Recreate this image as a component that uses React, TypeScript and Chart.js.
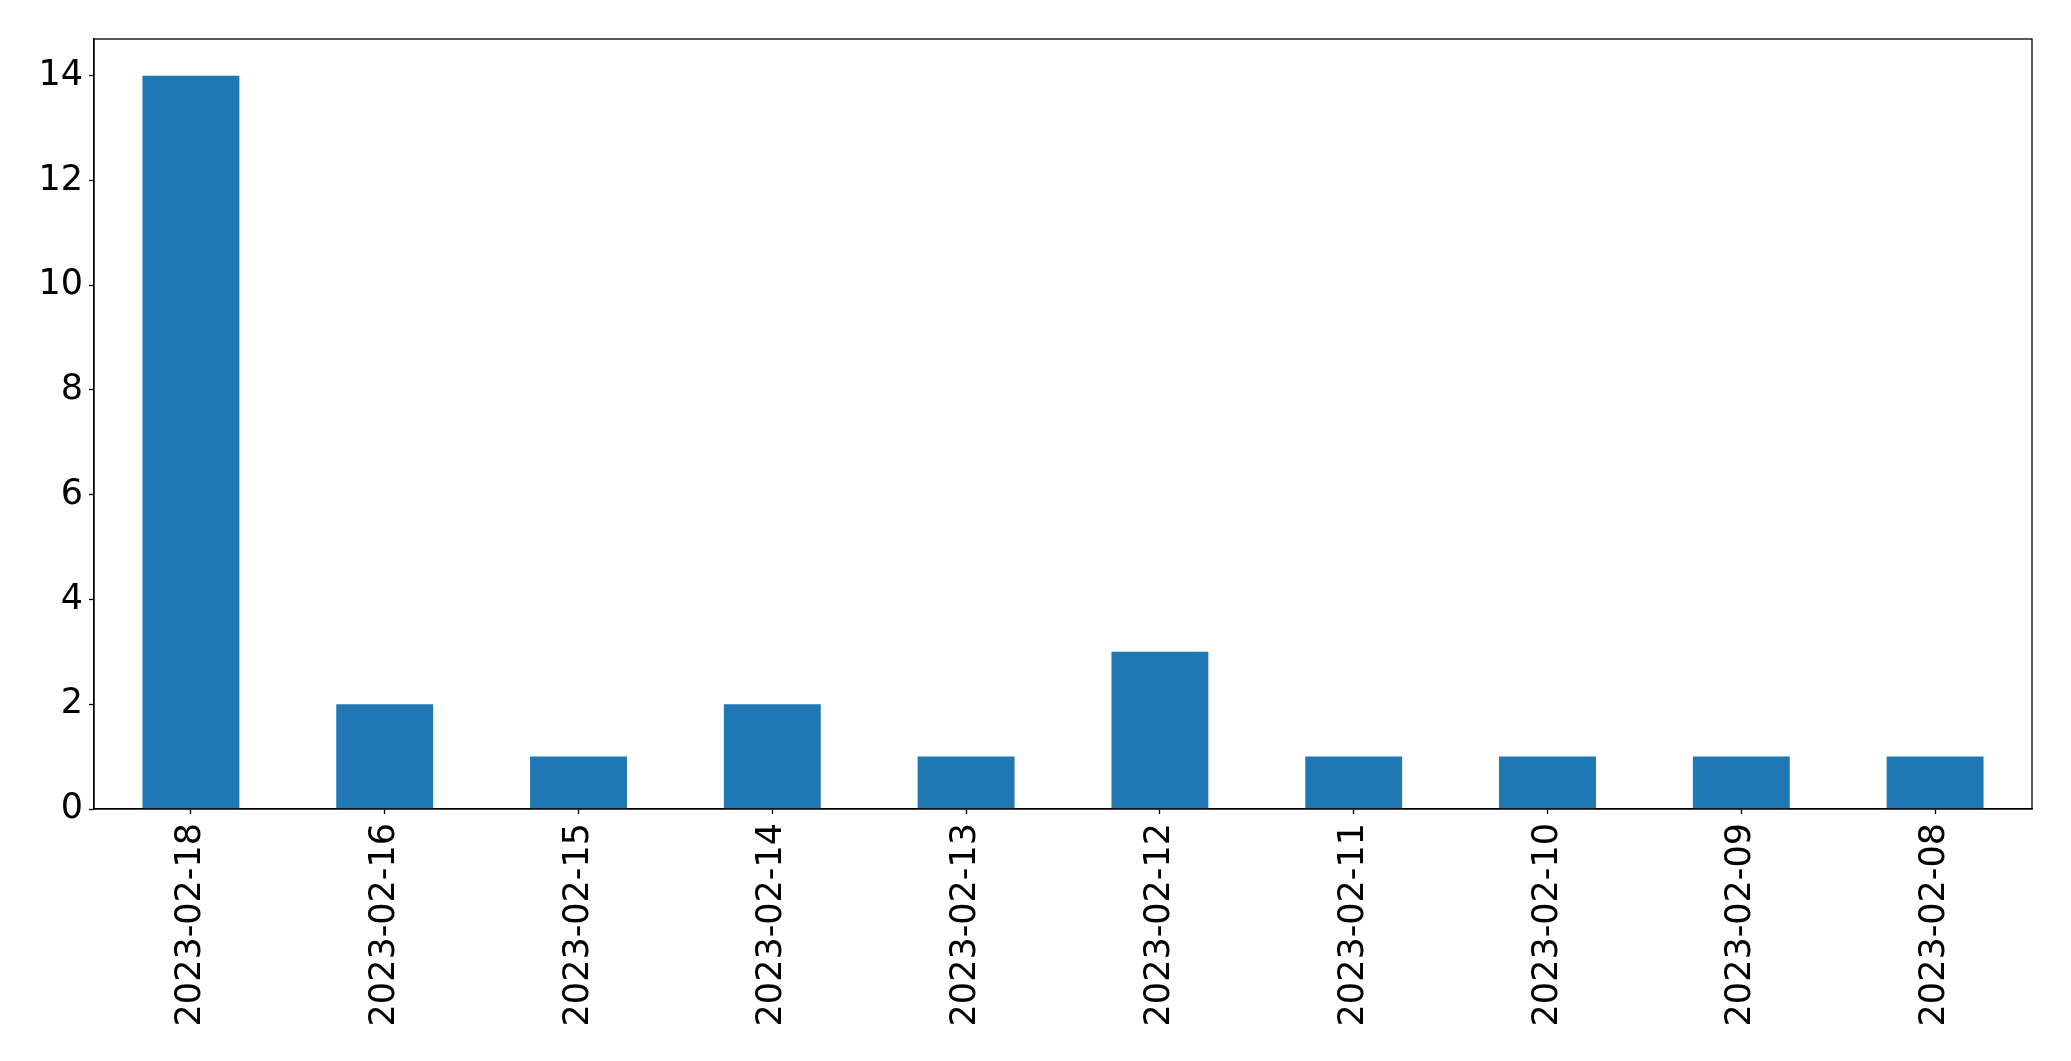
import React, { useEffect, useRef } from "react";
import { Chart, registerables } from "chart.js";

Chart.register(...registerables);

const categories = [
  "2023-02-18",
  "2023-02-16",
  "2023-02-15",
  "2023-02-14",
  "2023-02-13",
  "2023-02-12",
  "2023-02-11",
  "2023-02-10",
  "2023-02-09",
  "2023-02-08",
];
const counts = [14, 2, 1, 2, 1, 3, 1, 1, 1, 1];
const yTicks = [0, 2, 4, 6, 8, 10, 12, 14];
const yMax = 14.7;

const FONT = "'DejaVu Sans', sans-serif";

const framePlugin = {
  id: "frame",
  afterDraw(chart: any) {
    const { ctx, chartArea } = chart;
    ctx.save();
    ctx.strokeStyle = "#000";
    ctx.lineWidth = 1.3;
    ctx.strokeRect(chartArea.left, chartArea.top, chartArea.right - chartArea.left, chartArea.bottom - chartArea.top);
    ctx.restore();
  },
};

export default function App() {
  const ref = useRef<HTMLCanvasElement | null>(null);
  useEffect(() => {
    if (!ref.current) return;
    const chart = new Chart(ref.current, {
      type: "bar",
      data: {
        labels: categories,
        datasets: [
          {
            data: counts,
            backgroundColor: "#1f77b4",
            borderWidth: 0,
            categoryPercentage: 1,
            barPercentage: 0.5,
          },
        ],
      },
      options: {
        animation: false,
        responsive: false,
        maintainAspectRatio: false,
        layout: { padding: { top: 39, right: 39, left: 0, bottom: 0 } },
        plugins: { legend: { display: false }, tooltip: { enabled: false } },
        scales: {
          x: {
            grid: { offset: false, drawOnChartArea: false, drawTicks: true, tickLength: 5, tickColor: "#000", tickWidth: 1.3 },
            border: { display: true, color: "#000", width: 1.3 },
            ticks: {
              color: "#000",
              font: { family: FONT, size: 35 },
              minRotation: 90,
              maxRotation: 90,
              padding: 9,
              autoSkip: false,
            },
            afterFit: (scale: any) => {
              scale.height = 252;
            },
          },
          y: {
            min: 0,
            max: yMax,
            grid: { drawOnChartArea: false, drawTicks: true, tickLength: 5, tickColor: "#000", tickWidth: 1.3 },
            border: { display: true, color: "#000", width: 1.3 },
            ticks: {
              color: "#000",
              font: { family: FONT, size: 35 },
              padding: 6,
            },
            afterBuildTicks: (scale: any) => {
              scale.ticks = yTicks.map((v) => ({ value: v }));
            },
            afterFit: (scale: any) => {
              scale.width = 94;
            },
          },
        },
      },
      plugins: [framePlugin],
    });
    return () => chart.destroy();
  }, []);
  return (
    <div style={{ position: "fixed", left: 0, top: 0, width: 2071, height: 1061, background: "#fff" }}>
      <canvas ref={ref} width={2071} height={1061} style={{ width: 2071, height: 1061 }} />
    </div>
  );
}
